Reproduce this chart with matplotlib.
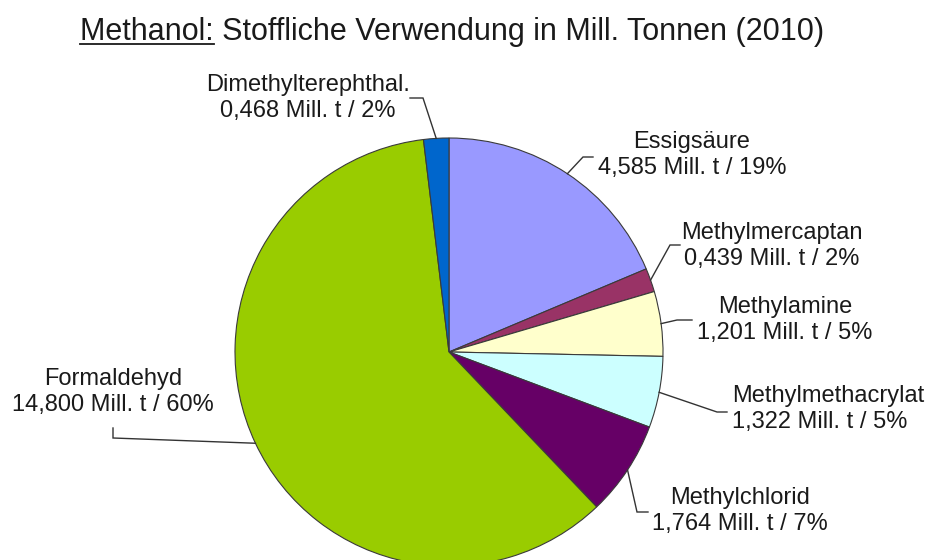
import numpy as np
import matplotlib
matplotlib.use('Agg')
import matplotlib.pyplot as plt

plt.rcParams['font.family'] = ['Liberation Sans', 'DejaVu Sans']

# Methanol-Verwendung 2010, Mill. t
stoffe = ['Essigsäure', 'Methylmercaptan', 'Methylamine', 'Methylmethacrylat',
          'Methylchlorid', 'Formaldehyd', 'Dimethylterephthal.']
mengen = [4.585, 0.439, 1.201, 1.322, 1.764, 14.800, 0.468]
farben = ['#9999FF', '#993366', '#FFFFCC', '#CCFFFF', '#660066', '#99CC00', '#0066CC']

W, H = 927, 560
def Y(v):  # Pixel von oben -> Datenkoordinate
    return H - v

fig = plt.figure(figsize=(W / 100, H / 100), dpi=100)
ax = fig.add_axes([0, 0, 1, 1])

cx, cy, r = 449, Y(352), 214
wedges, _ = ax.pie(mengen, colors=farben, startangle=90, counterclock=False,
                   center=(cx, cy), radius=r,
                   wedgeprops=dict(edgecolor='#3a3a3a', linewidth=0.8))
ax.set_xlim(0, W)
ax.set_ylim(0, H)
ax.set_aspect('equal')
ax.axis('off')

# Beschriftungen: (x, y, ha, Knick-Anfang, Knick)
lage = [
    (692, 155, 'center', (593, 157), (583, 157)),
    (772, 246, 'center', (680, 245), (670, 245)),
    (785, 320, 'center', (692, 320), (677, 320)),
    (732, 409, 'left', (727, 412), (717, 412)),
    (740, 511, 'center', (648, 512), (637, 512)),
    (113, 392, 'center', (113, 428), (113, 438)),
    (308, 98, 'center', (410, 98), (423, 98)),
]

summe = sum(mengen)
for w, name, wert, (tx, ty, ha, p0, p1) in zip(wedges, stoffe, mengen, lage):
    txt = name + '\n' + f'{wert:.3f}'.replace('.', ',') + f' Mill. t / {round(100 * wert / summe)}%'
    ax.text(tx, Y(ty), txt, ha=ha, va='center', multialignment=ha,
            fontsize=17, color='#1a1a1a', linespacing=1.25)
    mitte = np.deg2rad((w.theta1 + w.theta2) / 2)
    px, py = cx + r * np.cos(mitte), cy + r * np.sin(mitte)
    ax.plot([p0[0], p1[0], px], [Y(p0[1]), Y(p1[1]), py],
            color='#333333', lw=1.0, solid_joinstyle='miter')

# Titel mit unterstrichenem "Methanol:"
tx0, ty0 = 80, Y(40)
ax.text(tx0, ty0, 'Methanol: Stoffliche Verwendung in Mill. Tonnen (2010)',
        ha='left', va='baseline', fontsize=22, color='#1a1a1a')
renderer = fig.canvas.get_renderer()
probe = ax.text(tx0, ty0, 'Methanol:', ha='left', va='baseline', fontsize=22)
bb = probe.get_window_extent(renderer).transformed(ax.transData.inverted())
probe.remove()
ax.plot([tx0, bb.x1], [ty0 - 4, ty0 - 4], color='#1a1a1a', lw=1.3)

fig.savefig('out.png', dpi=100)
